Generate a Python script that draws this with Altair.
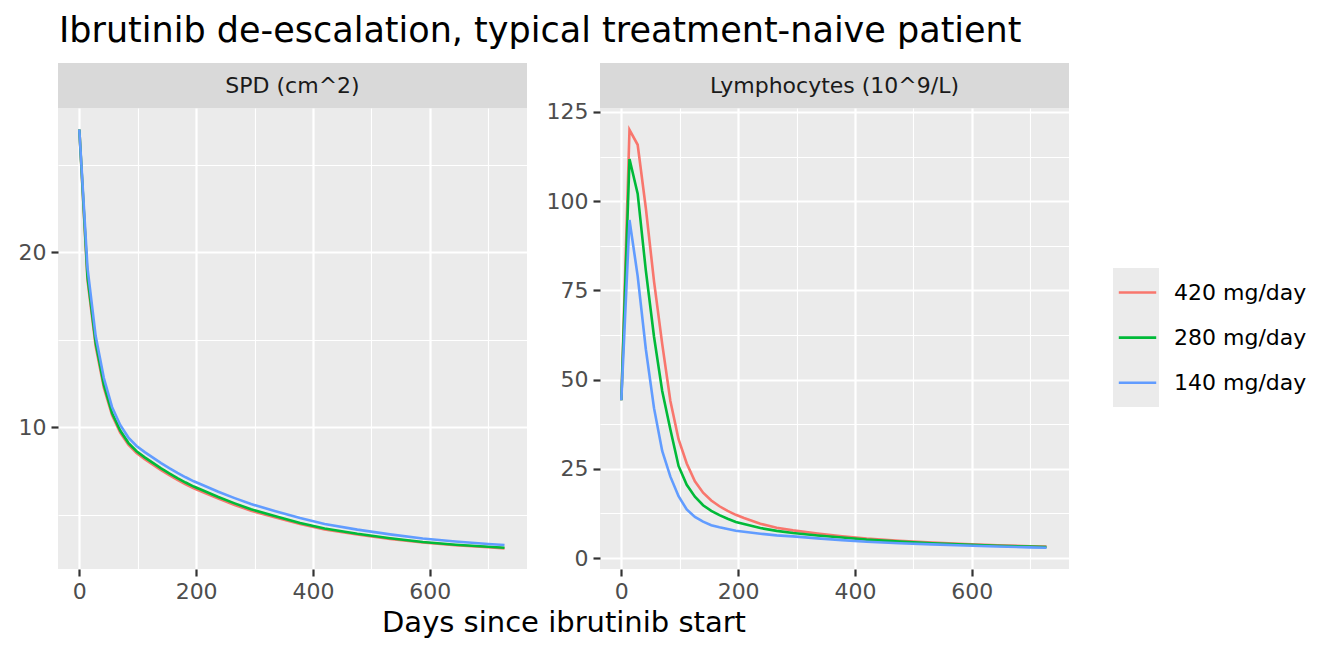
import altair as alt
import pandas as pd

# ---- data ----
days = [0, 14, 28, 42, 56, 70, 84, 98, 112, 126, 140, 154, 168, 182, 196, 210,
        238, 266, 294, 336, 378, 420, 476, 532, 588, 644, 700, 728]
doses = ["420 mg/day", "280 mg/day", "140 mg/day"]
colors = ["#F8766D", "#00BA38", "#619CFF"]

spd_420 = [27.0, 18.4, 14.62, 12.25, 10.68, 9.69, 9.0, 8.52, 8.17, 7.85, 7.54, 7.25, 6.98, 6.73,
           6.5, 6.3, 5.91, 5.55, 5.22, 4.83, 4.46, 4.15, 3.86, 3.61, 3.4, 3.25, 3.13, 3.07]
spd_280 = [27.0, 18.6, 14.8, 12.4, 10.8, 9.8, 9.1, 8.62, 8.27, 7.95, 7.64, 7.35, 7.08, 6.83,
           6.6, 6.4, 6.0, 5.64, 5.3, 4.9, 4.52, 4.2, 3.9, 3.65, 3.43, 3.28, 3.16, 3.1]
spd_140 = [27.0, 19.1, 15.2, 12.8, 11.15, 10.12, 9.4, 8.92, 8.57, 8.25, 7.94, 7.65, 7.38, 7.13,
           6.9, 6.7, 6.3, 5.94, 5.6, 5.19, 4.8, 4.46, 4.14, 3.87, 3.63, 3.46, 3.32, 3.26]

lym_420 = [44.2, 120.0, 115.8, 98.0, 77.5, 60.0, 44.0, 33.3, 26.5, 21.5, 18.3, 16.1, 14.5, 13.2,
           12.1, 11.2, 9.6, 8.5, 7.75, 6.85, 6.1, 5.45, 4.8, 4.3, 3.88, 3.55, 3.3, 3.2]
lym_280 = [44.2, 111.8, 102.1, 80.5, 62.0, 46.8, 36.0, 25.8, 20.5, 17.2, 14.8, 13.2, 12.0, 11.0,
           10.1, 9.5, 8.4, 7.6, 7.0, 6.3, 5.75, 5.15, 4.6, 4.15, 3.78, 3.45, 3.2, 3.1]
lym_140 = [44.2, 94.7, 79.0, 58.5, 42.0, 30.0, 22.8, 17.3, 13.6, 11.5, 10.2, 9.2, 8.6, 8.1,
           7.65, 7.35, 6.8, 6.35, 6.05, 5.5, 5.0, 4.55, 4.15, 3.82, 3.5, 3.22, 2.98, 2.88]

x_major = [0, 200, 400, 600]
x_minor = [100, 300, 500, 700]
spd_major = [10, 20]
spd_minor = [5, 15, 25]
lym_major = [0, 25, 50, 75, 100, 125]
lym_minor = [12.5, 37.5, 62.5, 87.5, 112.5]

title_text = "Ibrutinib de-escalation, typical treatment-naive patient"
x_title = "Days since ibrutinib start"
strip_labels = ["SPD (cm^2)", "Lymphocytes (10^9/L)"]

FONT = "DejaVu Sans"
W, H = 469, 461


def long_table(series):
    rows = []
    for dose, vals in zip(doses, series):
        for d, v in zip(days, vals):
            rows.append({"day": d, "value": v, "dose": dose})
    return pd.DataFrame(rows)


legend = alt.Legend(title=None, orient="none", legendX=1059, legendY=164,
                    symbolType="stroke", symbolSize=1400, symbolStrokeWidth=2.6,
                    labelFont=FONT, labelFontSize=22, labelColor="black",
                    rowPadding=13.1, labelOffset=16, padding=0)


def panel(df, label, ydom, ymajor, yminor, xtitle, legend_bg):
    xscale = alt.Scale(domain=[-36.5, 766.5], nice=False, zero=False)
    yscale = alt.Scale(domain=ydom, nice=False, zero=False)
    base = alt.Chart(df)
    minor = base.mark_line(opacity=0).encode(
        x=alt.X("day:Q", scale=xscale,
                axis=alt.Axis(values=x_minor, grid=True, gridWidth=1.1, gridColor="white",
                              labels=False, ticks=False, domain=False, title=None, orient="top")),
        y=alt.Y("value:Q", scale=yscale,
                axis=alt.Axis(values=yminor, grid=True, gridWidth=1.1, gridColor="white",
                              labels=False, ticks=False, domain=False, title=None, orient="right")),
        detail="dose:N",
    )
    if xtitle:
        xaxis = alt.Axis(values=x_major, grid=True, gridWidth=2.2, gridColor="white",
                         title=xtitle, titleX=505.5, titleAlign="center", orient="bottom")
    else:
        xaxis = alt.Axis(values=x_major, grid=True, gridWidth=2.2, gridColor="white",
                         title=None, orient="bottom")
    lines = base.mark_line(strokeWidth=2.6).encode(
        x=alt.X("day:Q", scale=xscale, axis=xaxis),
        y=alt.Y("value:Q", scale=yscale,
                axis=alt.Axis(values=ymajor, grid=True, gridWidth=2.2, gridColor="white",
                              title=None, orient="left")),
        color=alt.Color("dose:N", scale=alt.Scale(domain=doses, range=colors), legend=legend),
    )
    sdf = pd.DataFrame({"label": [label]})
    strip = alt.Chart(sdf).mark_rect(color="#D9D9D9").encode(
        x=alt.value(0), x2=alt.value(W), y=alt.value(-45), y2=alt.value(0))
    stext = alt.Chart(sdf).mark_text(font=FONT, fontSize=22, color="#1A1A1A",
                                     baseline="middle", align="center").encode(
        x=alt.value(W / 2), y=alt.value(-22.5), text="label:N")
    layers = [minor, lines, strip, stext]
    if legend_bg:
        bg = alt.Chart(sdf).mark_rect(color="#EBEBEB").encode(
            x=alt.value(1113 - 600), x2=alt.value(1159 - 600),
            y=alt.value(160), y2=alt.value(299))
        layers = [bg] + layers
    return alt.layer(*layers).resolve_axis(x="independent", y="independent").properties(
        width=W, height=H)


left = panel(long_table([spd_420, spd_280, spd_140]), strip_labels[0],
             [1.89, 28.23], spd_major, spd_minor, x_title, False)
right = panel(long_table([lym_420, lym_280, lym_140]), strip_labels[1],
              [-3.08, 126.1], lym_major, lym_minor, None, True)

chart = alt.hconcat(left, right, spacing=73, bounds="flush").properties(
    title=alt.TitleParams(title_text, anchor="start", fontSize=35, font=FONT,
                          fontWeight="normal", color="black", offset=14, dx=41),
    padding={"left": 10, "top": 6, "right": 5, "bottom": 5},
).configure_view(fill="#EBEBEB", stroke=None).configure_axis(
    labelFont=FONT, labelFontSize=22, labelColor="#4D4D4D",
    tickColor="#333333", tickSize=7, tickWidth=2.2, labelPadding=5,
    domain=False, titleFont=FONT, titleFontSize=29, titleFontWeight="normal",
    titleColor="black", titlePadding=6,
)

chart.save("out.html", embed_options={"renderer": "svg", "actions": False})
